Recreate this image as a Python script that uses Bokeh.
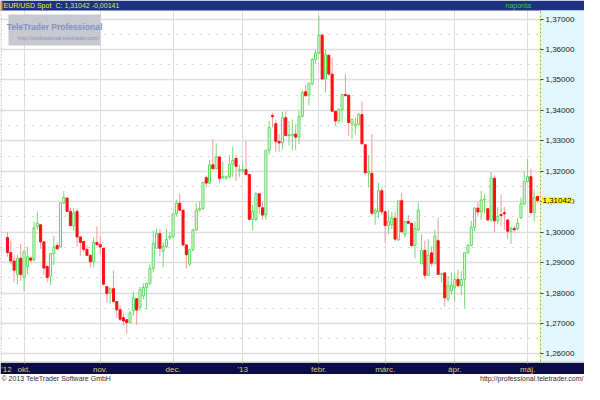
import pandas as pd
from bokeh.plotting import figure
from bokeh.models import (ColumnDataSource, FixedTicker, Range1d, BoxAnnotation,
                          Label, CustomJSTickFormatter)
from bokeh.embed import file_html
from bokeh.resources import INLINE

# ---------------- data (EUR/USD daily) ----------------
dates = list(pd.bdate_range("2012-09-24", "2013-05-06"))

opens = [1.2982, 1.2933, 1.2905, 1.2861, 1.2914, 1.2851, 1.2887, 1.2915, 1.2908, 1.3017,
         1.3024, 1.2968, 1.2887, 1.2856, 1.2929, 1.2956, 1.2951, 1.3096, 1.3112, 1.3068,
         1.3021, 1.3068, 1.2984, 1.2969, 1.2943, 1.2924, 1.2903, 1.2966, 1.2959, 1.2947,
         1.2821, 1.2800, 1.2814, 1.2772, 1.2745, 1.2719, 1.2712, 1.2703, 1.2742, 1.2781,
         1.2753, 1.2790, 1.2818, 1.2832, 1.2881, 1.2947, 1.2995, 1.2937, 1.2953, 1.2981,
         1.2986, 1.3060, 1.3095, 1.3072, 1.2958, 1.2895, 1.2942, 1.3007, 1.3073, 1.3077,
         1.3179, 1.3161, 1.3221, 1.3208, 1.3247, 1.3178, 1.3178, 1.3182, 1.3223, 1.3242,
         1.3202, 1.3200, 1.3205, 1.3189, 1.3042, 1.3042, 1.3126, 1.3080, 1.3056, 1.3269,
         1.3383, 1.3356, 1.3298, 1.3293, 1.3376, 1.3317, 1.3317, 1.3322, 1.3312, 1.3381,
         1.3461, 1.3450, 1.3487, 1.3567, 1.3588, 1.3647, 1.3503, 1.3581, 1.3519, 1.3397,
         1.3365, 1.3402, 1.3452, 1.3450, 1.3356, 1.3349, 1.3354, 1.3386, 1.3287, 1.3195,
         1.3193, 1.3062, 1.3067, 1.3136, 1.3067, 1.3022, 1.3024, 1.3046, 1.2974, 1.3103,
         1.2993, 1.3035, 1.3029, 1.2956, 1.3008, 1.2896, 1.2940, 1.2858, 1.2932, 1.2898,
         1.2972, 1.2861, 1.2866, 1.2780, 1.2808, 1.2819, 1.2845, 1.2824, 1.2845, 1.2932,
         1.2956, 1.3016, 1.3079, 1.3066, 1.3106, 1.3077, 1.3040, 1.3177, 1.3037, 1.3058,
         1.3064, 1.3040, 1.3003, 1.3012, 1.3012, 1.3047, 1.3093, 1.3166, 1.3182, 1.3064,
         1.3117]
highs = [1.3000, 1.2972, 1.2924, 1.2926, 1.2961, 1.2940, 1.2953, 1.2919, 1.3035, 1.3068,
         1.3024, 1.2968, 1.2891, 1.2932, 1.2987, 1.2966, 1.3096, 1.3135, 1.3112, 1.3080,
         1.3079, 1.3077, 1.2987, 1.2972, 1.2956, 1.2924, 1.2982, 1.3019, 1.2987, 1.2947,
         1.2821, 1.2819, 1.2874, 1.2772, 1.2761, 1.2735, 1.2714, 1.2740, 1.2805, 1.2784,
         1.2820, 1.2832, 1.2832, 1.2895, 1.3005, 1.3011, 1.3011, 1.2968, 1.3011, 1.3000,
         1.3062, 1.3107, 1.3126, 1.3072, 1.2958, 1.2942, 1.3011, 1.3095, 1.3100, 1.3165,
         1.3186, 1.3237, 1.3305, 1.3292, 1.3247, 1.3232, 1.3186, 1.3253, 1.3281, 1.3253,
         1.3221, 1.3226, 1.3300, 1.3189, 1.3089, 1.3132, 1.3126, 1.3099, 1.3269, 1.3365,
         1.3391, 1.3370, 1.3322, 1.3395, 1.3397, 1.3365, 1.3370, 1.3354, 1.3397, 1.3466,
         1.3482, 1.3493, 1.3572, 1.3599, 1.3711, 1.3652, 1.3599, 1.3581, 1.3572, 1.3397,
         1.3407, 1.3452, 1.3519, 1.3450, 1.3370, 1.3376, 1.3391, 1.3429, 1.3287, 1.3253,
         1.3322, 1.3080, 1.3163, 1.3147, 1.3067, 1.3072, 1.3067, 1.3067, 1.3103, 1.3129,
         1.3037, 1.3056, 1.3029, 1.3035, 1.3098, 1.2993, 1.2972, 1.2977, 1.2953, 1.3008,
         1.3047, 1.2866, 1.2866, 1.2856, 1.2866, 1.2866, 1.2877, 1.2872, 1.2932, 1.2961,
         1.3037, 1.3082, 1.3098, 1.3135, 1.3124, 1.3077, 1.3198, 1.3187, 1.3082, 1.3124,
         1.3082, 1.3040, 1.3019, 1.3019, 1.3045, 1.3114, 1.3198, 1.3240, 1.3208, 1.3140,
         1.3119]
lows = [1.2919, 1.2895, 1.2835, 1.2829, 1.2840, 1.2806, 1.2861, 1.2901, 1.2905, 1.3008,
        1.2945, 1.2861, 1.2835, 1.2826, 1.2891, 1.2943, 1.2948, 1.3092, 1.3067, 1.3021,
        1.3003, 1.2954, 1.2921, 1.2935, 1.2922, 1.2884, 1.2884, 1.2954, 1.2929, 1.2824,
        1.2768, 1.2766, 1.2769, 1.2719, 1.2708, 1.2693, 1.2666, 1.2700, 1.2726, 1.2695,
        1.2742, 1.2779, 1.2745, 1.2826, 1.2868, 1.2947, 1.2921, 1.2884, 1.2947, 1.2974,
        1.2979, 1.3053, 1.3072, 1.2953, 1.2881, 1.2889, 1.2937, 1.3005, 1.3068, 1.3073,
        1.3147, 1.3158, 1.3208, 1.3205, 1.3161, 1.3176, 1.3172, 1.3176, 1.3182, 1.3168,
        1.3182, 1.3195, 1.3189, 1.3039, 1.3005, 1.3037, 1.3058, 1.3040, 1.3040, 1.3253,
        1.3344, 1.3264, 1.3264, 1.3271, 1.3317, 1.3285, 1.3269, 1.3269, 1.3290, 1.3376,
        1.3445, 1.3418, 1.3482, 1.3551, 1.3583, 1.3503, 1.3459, 1.3514, 1.3397, 1.3349,
        1.3356, 1.3360, 1.3448, 1.3317, 1.3306, 1.3322, 1.3349, 1.3290, 1.3189, 1.3147,
        1.3056, 1.3024, 1.3046, 1.3056, 1.2966, 1.2993, 1.3010, 1.2970, 1.2972, 1.2998,
        1.2982, 1.3026, 1.2951, 1.2914, 1.3003, 1.2896, 1.2845, 1.2856, 1.2887, 1.2893,
        1.2861, 1.2835, 1.2756, 1.2772, 1.2793, 1.2772, 1.2819, 1.2793, 1.2751, 1.2930,
        1.2953, 1.3003, 1.3051, 1.3040, 1.3061, 1.3035, 1.3035, 1.3001, 1.3026, 1.3019,
        1.3008, 1.2977, 1.2961, 1.2998, 1.3005, 1.3043, 1.3088, 1.3163, 1.3061, 1.3035,
        1.3098]
closes = [1.2933, 1.2905, 1.2875, 1.2914, 1.2861, 1.2937, 1.2919, 1.2908, 1.3014, 1.3029,
          1.2968, 1.2882, 1.2851, 1.2929, 1.2951, 1.2945, 1.3096, 1.3114, 1.3068, 1.3021,
          1.3063, 1.2984, 1.2966, 1.2943, 1.2924, 1.2903, 1.2966, 1.2959, 1.2951, 1.2829,
          1.2798, 1.2814, 1.2772, 1.2745, 1.2714, 1.2708, 1.2703, 1.2735, 1.2784, 1.2744,
          1.2811, 1.2818, 1.2832, 1.2881, 1.2963, 1.2995, 1.2947, 1.2953, 1.2976, 1.2986,
          1.3060, 1.3095, 1.3072, 1.2958, 1.2926, 1.2942, 1.3007, 1.3073, 1.3077, 1.3163,
          1.3161, 1.3221, 1.3208, 1.3247, 1.3176, 1.3182, 1.3182, 1.3223, 1.3235, 1.3216,
          1.3205, 1.3205, 1.3189, 1.3042, 1.3068, 1.3126, 1.3084, 1.3056, 1.3269, 1.3344,
          1.3379, 1.3298, 1.3293, 1.3376, 1.3317, 1.3320, 1.3322, 1.3312, 1.3381, 1.3459,
          1.3448, 1.3487, 1.3567, 1.3588, 1.3647, 1.3503, 1.3583, 1.3519, 1.3397, 1.3365,
          1.3402, 1.3452, 1.3448, 1.3360, 1.3370, 1.3354, 1.3386, 1.3290, 1.3195, 1.3200,
          1.3062, 1.3072, 1.3136, 1.3067, 1.3022, 1.3035, 1.3046, 1.2977, 1.3103, 1.3001,
          1.3035, 1.3029, 1.2956, 1.3012, 1.3072, 1.2940, 1.2858, 1.2924, 1.2898, 1.2987,
          1.2861, 1.2863, 1.2784, 1.2824, 1.2826, 1.2845, 1.2824, 1.2845, 1.2932, 1.2956,
          1.3016, 1.3079, 1.3066, 1.3106, 1.3108, 1.3040, 1.3177, 1.3037, 1.3051, 1.3054,
          1.3060, 1.3003, 1.3012, 1.3008, 1.3029, 1.3093, 1.3166, 1.3182, 1.3064, 1.3114,
          1.3104]

month_labels = {10: "okt.", 11: "nov.", 12: "dec.", 1: "'13", 2: "febr.",
                3: "márc.", 4: "ápr.", 5: "máj."}
year_label = "'12"
price_ticks = [1.26, 1.27, 1.28, 1.29, 1.30, 1.31, 1.32, 1.33, 1.34, 1.35, 1.36, 1.37]
price_minor = [1.265, 1.275, 1.285, 1.295, 1.305, 1.315, 1.325, 1.335, 1.345, 1.355, 1.365]
last_close_text = "1,31042"
header_name = "EUR/USD Spot"
header_quote = "C: 1,31042 -0,00141"
period_text = "naponta"
brand_text = "TeleTrader Professional"
url_text = "http://professional.teletrader.com/"
copyright_text = "© 2013 TeleTrader Software GmbH"

# ---------------- sources ----------------
idx = list(range(len(dates)))
up = [c >= o for o, c in zip(opens, closes)]

def sub(mask):
    return ColumnDataSource(dict(
        x=[i for i, m in zip(idx, mask) if m],
        h=[v for v, m in zip(highs, mask) if m],
        l=[v for v, m in zip(lows, mask) if m],
        top=[max(a, b) for a, b, m in zip(opens, closes, mask) if m],
        bot=[min(a, b) for a, b, m in zip(opens, closes, mask) if m],
    ))

src_up = sub(up)
src_dn = sub([not u for u in up])

month_ticks, month_over = [], {}
for i, d in enumerate(dates):
    if i > 0 and d.month != dates[i - 1].month:
        month_ticks.append(i)
        month_over[i] = month_labels[d.month]
YEAR_POS = -0.3
x_ticks = [YEAR_POS] + month_ticks
month_over[YEAR_POS] = year_label

# ---------------- layout geometry (canvas px) ----------------
W, H = 584, 384
PL, PR, PT, PB = 2, 540, 10, 361       # price-area box inside the canvas
X0, X1 = -1.5, 160.9                   # data x at PL / PR
Y0, Y1 = 1.2575, 1.3728                # data y at PB / PT
sx = (PR - PL) / (X1 - X0)
sy = (PB - PT) / (Y1 - Y0)
xr = Range1d(X0 - PL / sx, X0 + (W - PL) / sx)
yr = Range1d(Y0 - (H - PB) / sy, Y1 + PT / sy)

p = figure(width=W, height=H, output_backend="svg", toolbar_location=None,
           x_range=xr, y_range=yr, y_axis_location="right",
           min_border=0, min_border_left=0, min_border_right=0,
           min_border_top=0, min_border_bottom=0,
           border_fill_color="white", background_fill_color="white",
           outline_line_color=None)

def cbox(l, r, t, b, color, alpha=1.0, **kw):
    bx = BoxAnnotation(left=l, right=r, top=t, bottom=b,
                       left_units="canvas", right_units="canvas",
                       top_units="canvas", bottom_units="canvas",
                       fill_color=color, fill_alpha=alpha, level="underlay", **kw)
    p.add_layout(bx)
    return bx

def lab(cx, cy, text, color, size="7px", align="left", bold=False, **kw):
    lb = Label(x=cx, y=H - cy, x_units="screen", y_units="screen", text=text,
               text_color=color, text_font="Liberation Sans", text_font_size=size,
               text_align=align, text_baseline="middle",
               text_font_style="bold" if bold else "normal", **kw)
    p.add_layout(lb)
    return lb

# grids
p.ygrid.ticker = FixedTicker(ticks=price_ticks, minor_ticks=price_minor)
p.ygrid.grid_line_color = "#e2dcdc"
p.ygrid.grid_line_width = 1.5
p.ygrid.minor_grid_line_color = "#b4b4b4"
p.ygrid.minor_grid_line_dash = "1 7"
p.xgrid.ticker = FixedTicker(ticks=month_ticks)
p.xgrid.grid_line_color = "#e2dcdc"
p.xgrid.grid_line_width = 1

# panels drawn over the grid lines (underlay level, added after the grids)
cbox(0, W, 0, PT, "#1d3283", line_color=None)                 # header bar
cbox(0, 2, 0, PT, "#f09020", line_color=None)                 # orange marker
cbox(PR, W, PT, PB, "#e2f8ff", line_color=None)               # price axis background
cbox(0, W, PB, PB + 1.5, "#c8c8bc", line_color=None)          # thin line over time axis
cbox(0, W, PB + 1.5, PB + 12.5, "#0b0b46", line_color=None)   # time axis bar
cbox(0, W, PB + 12.5, H, "#ffffff", line_color=None)          # footer
cbox(8, 100, 14, 45, "#c4c6cc", alpha=0.95, line_color=None)  # watermark box
cbox(0, 1, PT, PB, None, line_color="#202020", line_dash="1 2")

# candles
p.segment(x0="x", y0="h", x1="x", y1="l", source=src_up, line_color="#74dc74", line_width=1)
p.segment(x0="x", y0="h", x1="x", y1="l", source=src_dn, line_color="#f49a9a", line_width=1)
p.vbar(x="x", top="top", bottom="bot", width=0.62, source=src_up,
       fill_color="#eefdee", line_color="#5cd85c", line_width=1)
p.vbar(x="x", top="top", bottom="bot", width=0.62, source=src_dn,
       fill_color="#ff1010", line_color="#ff1010", line_width=1)

# price axis (right edge of the price area)
ya = p.yaxis[0]
ya.fixed_location = X1
ya.bounds = (Y0, Y1)
ya.ticker = FixedTicker(ticks=price_ticks)
ya.formatter = CustomJSTickFormatter(code="return tick.toFixed(5).replace('.', ',');")
ya.major_label_text_font = "Liberation Sans"
ya.major_label_text_font_size = "8px"
ya.major_label_text_color = "#202020"
ya.major_label_standoff = 2
ya.major_tick_in = 0
ya.major_tick_out = 3
ya.major_tick_line_color = "#404040"
ya.minor_tick_line_color = None
ya.axis_line_color = "#b8a420"
ya.axis_line_dash = "2 2"

# time axis (bottom of the price area)
xa = p.xaxis[0]
xa.fixed_location = Y0
xa.ticker = FixedTicker(ticks=x_ticks)
xa.major_label_overrides = month_over
xa.major_label_text_font = "Liberation Sans"
xa.major_label_text_font_size = "8px"
xa.major_label_text_color = "#dccb7c"
xa.major_label_standoff = 1
xa.major_tick_in = 0
xa.major_tick_out = 2
xa.major_tick_line_color = "#c8b870"
xa.minor_tick_line_color = None
xa.axis_line_color = None

# header texts
lab(3, 5, header_name, "#f4f400")
lab(55, 5, header_quote, "#c8f050")
lab(505, 5, period_text, "#30d030")

# watermark
lab(54, 26, brand_text, "#8294c4", size="8.5px", align="center", bold=True)
lab(58, 37, url_text, "#8294c4", size="5.5px", align="center")

# last price tag
p.add_layout(Label(x=PR + 1, y=closes[-1], x_units="screen", y_units="data",
                   text=last_close_text, text_color="#000000", text_font="Liberation Sans",
                   text_font_size="8px", text_baseline="middle",
                   background_fill_color="#ffff00", background_fill_alpha=1.0,
                   padding=1))

# footer
lab(1, 378, copyright_text, "#303030", size="7px")
lab(W - 1, 378, url_text, "#303030", size="7px", align="right")

open("out.html", "w").write(file_html(p, INLINE))
